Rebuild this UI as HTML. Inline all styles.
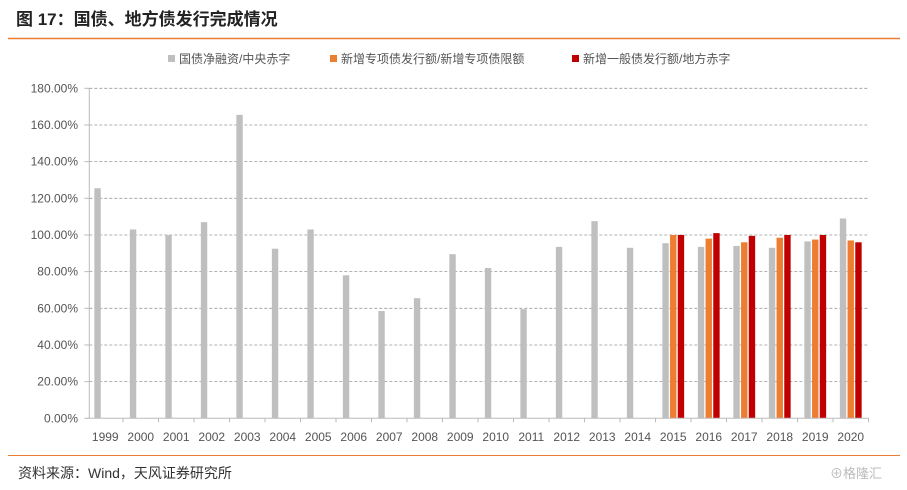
<!DOCTYPE html>
<html><head><meta charset="utf-8"><style>
body{margin:0;background:#fff;width:907px;height:490px;overflow:hidden;font-family:"Liberation Sans","Noto Sans CJK SC",sans-serif;}
</style></head><body>
<svg width="907" height="490" style="position:absolute;left:0;top:0">
<text x="16" y="25" font-size="17" font-weight="bold" fill="#222" font-family="Liberation Sans, Noto Sans CJK SC, sans-serif">图 17：国债、地方债发行完成情况</text>
<line x1="8" y1="38.5" x2="900" y2="38.5" stroke="#ED7D31" stroke-width="1.5"/>
<g font-size="12" fill="#555" font-family="Liberation Sans, Noto Sans CJK SC, sans-serif">
<rect x="168" y="55" width="7" height="7" fill="#BFBFBF"/>
<text x="179" y="63">国债净融资/中央赤字</text>
<rect x="330" y="55" width="7" height="7" fill="#ED7D31"/>
<text x="341" y="63">新增专项债发行额/新增专项债限额</text>
<rect x="572" y="55" width="7" height="7" fill="#C00000"/>
<text x="583" y="63">新增一般债发行额/地方赤字</text>
</g>
<g id="plot"></g>
<line x1="8" y1="455.5" x2="900" y2="455.5" stroke="#ED7D31" stroke-width="1"/>
<text x="18" y="478" font-size="14" fill="#333" font-family="Liberation Sans, Noto Sans CJK SC, sans-serif">资料来源：Wind，天风证券研究所</text>
<text x="830" y="478" font-size="13" fill="#bbb" font-family="Liberation Sans, Noto Sans CJK SC, sans-serif">⊕格隆汇</text>
</svg>
<script>
const categories=["1999","2000","2001","2002","2003","2004","2005","2006","2007","2008","2009","2010","2011","2012","2013","2014","2015","2016","2017","2018","2019","2020"];
const grayValues=[125.5,103,100,107,165.5,92.5,103,78,58.5,65.5,89.5,82,59.5,93.5,107.5,93,95.5,93.5,94,93,96.5,109];
const orangeValues=[null,null,null,null,null,null,null,null,null,null,null,null,null,null,null,null,100,98,96,98.5,97.5,97];
const redValues=[null,null,null,null,null,null,null,null,null,null,null,null,null,null,null,null,100,101,99.5,100,100,96];
const yTicks=[0,20,40,60,80,100,120,140,160,180];
const ns="http://www.w3.org/2000/svg";
const g=document.getElementById('plot');
const x0=87.5,x1=868.5,y0=418.3,yTop=88.3,yMax=180,axX=89.3;
const bw=(x1-x0)/categories.length;
const y=v=>y0-(v/yMax)*(y0-yTop);
const xc=i=>x0+bw*(i+0.5);
function mk(t,a){const e=document.createElementNS(ns,t);for(const k in a)e.setAttribute(k,a[k]);g.appendChild(e);return e;}
yTicks.forEach(t=>{
 if(t>0){const l=mk('line',{x1:axX,x2:x1,y1:y(t),y2:y(t),stroke:'#999','stroke-dasharray':'3,2','stroke-width':0.8});
 
 }
 const yt=mk('line',{x1:axX-5,x2:axX,y1:y(t),y2:y(t),stroke:'#bbb'});
 
 
 const tx=mk('text',{x:78,y:y(t)+4,'text-anchor':'end','font-size':12,fill:'#555'});
 tx.textContent=t.toFixed(2)+'%';
 
 
});
const yax=mk('line',{x1:axX,x2:axX,y1:yTop,y2:y0,stroke:'#bbb'});


const series=[[grayValues,'#BFBFBF',-7.7,'gray'],[orangeValues,'#ED7D31',0,'orange'],[redValues,'#C00000',7.7,'red']];
series.forEach(([vals,col,off,nm])=>{
 vals.forEach((v,i)=>{ if(v==null)return;
  const r=mk('rect',{x:xc(i)+off-3.2,y:y(v),width:6.4,height:y0-y(v),fill:col});
  
  
 });
});
const ax=mk('line',{x1:x0,x2:x1,y1:y0,y2:y0,stroke:'#bbb'});


categories.forEach((c,i)=>{
 const tk=mk('line',{x1:x0+bw*(i+1),x2:x0+bw*(i+1),y1:y0,y2:y0+4,stroke:'#bbb'});
 
 
 const tx=mk('text',{x:xc(i),y:441,'text-anchor':'middle','font-size':12,fill:'#555'});
 tx.textContent=c;
 
 
});
</script>
</body></html>
